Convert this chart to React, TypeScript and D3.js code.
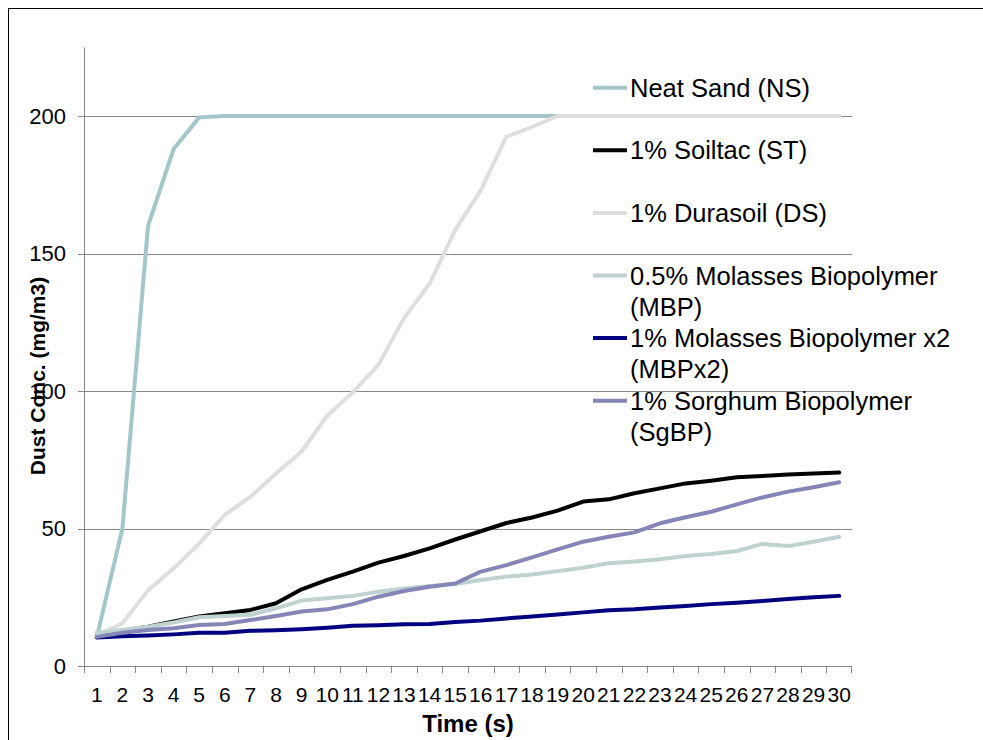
import React from "react";
import * as d3 from "d3";

const times: number[] = Array.from({ length: 30 }, (_, i) => i + 1);

const neatSand = [10.5, 50, 160, 188, 199.5, 200, 200, 200, 200, 200, 200, 200, 200, 200, 200, 200, 200, 200, 200, 200, 200, 200, 200, 200, 200, 200, 200, 200, 200, 200];
const soiltac = [11, 12.8, 14.3, 16.2, 18, 19.2, 20.4, 22.8, 27.9, 31.3, 34.3, 37.6, 40, 42.8, 46, 49, 52, 54, 56.5, 59.8, 60.6, 62.8, 64.6, 66.4, 67.4, 68.6, 69.1, 69.6, 70, 70.4];
const durasoil = [11, 15.5, 27.5, 35.5, 44.5, 55, 61.5, 70, 78, 91, 99.5, 109.5, 126.5, 139, 158.5, 173, 192.5, 196, 200, 200, 200, 200, 200, 200, 200, 200, 200, 200, 200, 200];
const molasses = [12.1, 13.1, 14.3, 15.8, 17.7, 18.2, 18.6, 21, 23.8, 24.6, 25.5, 27, 28.2, 29.1, 29.8, 31.3, 32.5, 33.3, 34.5, 35.7, 37.4, 38, 38.8, 40, 40.7, 41.8, 44.4, 43.6, 45.2, 47];
const molassesX2 = [10.4, 10.8, 11.1, 11.5, 12.1, 12.1, 12.8, 13.0, 13.4, 13.9, 14.6, 14.8, 15.2, 15.3, 16.0, 16.5, 17.3, 18.0, 18.7, 19.5, 20.3, 20.6, 21.3, 21.8, 22.5, 23.0, 23.6, 24.4, 25.0, 25.5];
const sorghum = [10.6, 12.1, 13.1, 13.7, 14.9, 15.3, 16.7, 18.2, 19.8, 20.6, 22.5, 25.2, 27.3, 28.8, 30, 34.3, 36.7, 39.5, 42.4, 45.2, 47, 48.6, 51.9, 54.1, 56.1, 58.8, 61.3, 63.4, 65, 66.8];

const seriesNames: string[][] = [
  ["Neat Sand (NS)"],
  ["1% Soiltac (ST)"],
  ["1% Durasoil (DS)"],
  ["0.5% Molasses Biopolymer", "(MBP)"],
  ["1% Molasses Biopolymer x2", "(MBPx2)"],
  ["1% Sorghum Biopolymer", "(SgBP)"],
];
const seriesValues = [neatSand, soiltac, durasoil, molasses, molassesX2, sorghum];
const seriesColors = ["#A3C7C9", "#000000", "#DEDEDE", "#BFD2D2", "#000080", "#8585B8"];

const yTicks = [0, 50, 100, 150, 200];
const yMax = 225;
const xTitle = "Time (s)";
const yTitle = "Dust Conc. (mg/m3)";

const FONT = "Arial, 'Liberation Sans', sans-serif";

export default function App() {
  const left = 84, right = 852, top = 47.25, bottom = 666;
  const x = d3.scaleBand<number>().domain(times).range([left, right]).padding(0);
  const y = d3.scaleLinear().domain([0, yMax]).range([bottom, top]);
  const cx = (t: number) => (x(t) as number) + x.bandwidth() / 2;
  const line = d3.line<number>().x((_, i) => cx(times[i])).y((v) => y(v));
  const gridColor = "#868686";

  const legendX = 593, legendY0 = 87.7, legendStep = 62.6, legendLine = 31;

  return (
    <svg
      width={983}
      height={740}
      style={{ position: "absolute", left: 0, top: 0, background: "#fff" }}
      fontFamily={FONT}
    >
      <rect x={0} y={0} width={983} height={740} fill="#fff" />
      <rect x={8.5} y={8.5} width={1100} height={1100} fill="none" stroke="#000" strokeWidth={1} />

      {/* gridlines */}
      {yTicks.filter((t) => t > 0).map((t) => (
        <line key={"g" + t} x1={left} x2={right} y1={Math.round(y(t)) + 0.5} y2={Math.round(y(t)) + 0.5} stroke={gridColor} strokeWidth={1} />
      ))}

      {/* y axis */}
      <line x1={left + 0.5} x2={left + 0.5} y1={top} y2={bottom} stroke={gridColor} strokeWidth={1} />
      {yTicks.map((t) => (
        <g key={"yt" + t}>
          <line x1={left - 6} x2={left} y1={Math.round(y(t)) + 0.5} y2={Math.round(y(t)) + 0.5} stroke={gridColor} strokeWidth={1} />
          <text x={66} y={y(t) + 7.8} textAnchor="end" fontSize={22} fill="#000">{t}</text>
        </g>
      ))}

      {/* x axis */}
      <line x1={left} x2={right} y1={bottom + 0.5} y2={bottom + 0.5} stroke={gridColor} strokeWidth={1} />
      {times.map((t) => (
        <line key={"xt" + t} x1={Math.round(x(t) as number) + 0.5} x2={Math.round(x(t) as number) + 0.5} y1={bottom} y2={bottom + 7} stroke={gridColor} strokeWidth={1} />
      ))}
      <line x1={right - 0.5} x2={right - 0.5} y1={bottom} y2={bottom + 7} stroke={gridColor} strokeWidth={1} />
      {times.map((t) => (
        <text key={"xl" + t} x={cx(t)} y={702} textAnchor="middle" fontSize={21} fill="#000">{t}</text>
      ))}

      {/* axis titles */}
      <text x={468} y={732} textAnchor="middle" fontSize={24} fontWeight="bold" fill="#000">{xTitle}</text>
      <text transform={`translate(45,376) rotate(-90)`} textAnchor="middle" fontSize={21} fontWeight="bold" fill="#000">{yTitle}</text>

      {/* series */}
      {seriesValues.map((vals, i) => (
        <path key={"s" + i} d={line(vals) || ""} fill="none" stroke={seriesColors[i]} strokeWidth={4} strokeLinejoin="round" strokeLinecap="round" />
      ))}

      {/* legend */}
      {seriesNames.map((lines, i) => {
        const ly = legendY0 + i * legendStep;
        return (
          <g key={"lg" + i}>
            <line x1={legendX} x2={legendX + 34} y1={ly} y2={ly} stroke={seriesColors[i]} strokeWidth={4} />
            {lines.map((s, j) => (
              <text key={j} x={630} y={ly + 9 + j * legendLine} fontSize={25.5} fill="#000">{s}</text>
            ))}
          </g>
        );
      })}
    </svg>
  );
}
